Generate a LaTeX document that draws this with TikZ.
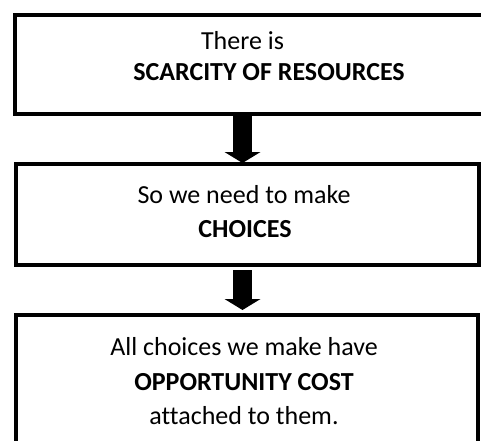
\documentclass[tikz,border=0pt]{standalone}
\usepackage{fontspec}
\setmainfont{Carlito}[Ligatures=NoCommon]
\usetikzlibrary{arrows.meta}
\tikzset{
  box/.style={draw,line width=3pt,inner sep=0pt,outer sep=0pt},
  txt/.style={anchor=base,inner sep=0pt,font=\fontsize{19.5}{24}\selectfont},
  keytxt/.style={anchor=base,inner sep=0pt,font=\fontsize{19.5}{24}\selectfont\bfseries},
  flow/.style={line width=14.25pt,-{Triangle[width=27pt,length=8.25pt,line width=0pt]}}
}
\begin{document}
\begin{tikzpicture}[x=0.75pt,y=-0.75pt]
\useasboundingbox (0,0) rectangle (481,441);
\clip (0,0) rectangle (481,441);
% boxes
\node[box,minimum width=356.25pt,minimum height=74.6pt] (b1) at (252.5,64.25) {};
\node[box,minimum width=347.25pt,minimum height=75.4pt] (b2) at (247.5,214.75) {};
\node[box,minimum width=346.5pt,minimum height=116.25pt] (b3) at (247,392.5) {};
% texts
\node[txt] (t1) at (242.5,50) {There is};
\node[keytxt] (t2) at (269,81) {SCARCITY OF RESOURCES};
\node[txt] (t3) at (244,204) {So we need to make};
\node[keytxt] (t4) at (245,238) {CHOICES};
\node[txt] (t5) at (244,355) {All choices we make have};
\node[keytxt] (t6) at (244,390) {OPPORTUNITY COST};
\node[txt] (t7) at (244,424) {attached to them.};
% arrows
\draw[flow,shorten >=1.1pt] (b1.south -| t1) -- (b2.north -| t1);
\draw[flow,shorten <=3.75pt,shorten >=3.75pt] (b2.south -| t1) -- (b3.north -| t1);
\end{tikzpicture}
\end{document}
